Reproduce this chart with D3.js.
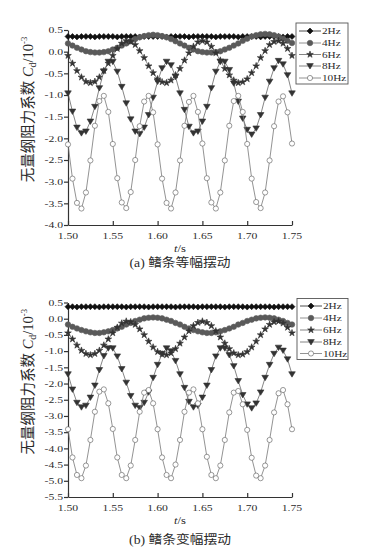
<!DOCTYPE html>
<html><head><meta charset="utf-8">
<script src="https://cdn.jsdelivr.net/npm/d3@7"></script>
<style>body{margin:0;background:#fff}svg{display:block}</style>
</head><body>
<script>
// ---------- data ----------
const times=[1.500,1.505,1.510,1.515,1.520,1.525,1.530,1.535,1.540,1.545,1.550,1.555,1.560,1.565,1.570,1.575,1.580,1.585,1.590,1.595,1.600,1.605,1.610,1.615,1.620,1.625,1.630,1.635,1.640,1.645,1.650,1.655,1.660,1.665,1.670,1.675,1.680,1.685,1.690,1.695,1.700,1.705,1.710,1.715,1.720,1.725,1.730,1.735,1.740,1.745,1.750];
const seriesNames=["2Hz","4Hz","6Hz","8Hz","10Hz"];
const xTicks=[1.50,1.55,1.60,1.65,1.70,1.75];
const yTicksA=[0.5,0.0,-0.5,-1.0,-1.5,-2.0,-2.5,-3.0,-3.5,-4.0];
const yTicksB=[0.5,0.0,-0.5,-1.0,-1.5,-2.0,-2.5,-3.0,-3.5,-4.0,-4.5,-5.0,-5.5];
const yLabelCJK="无量纲阻力系数 ";
const xLabel="t/s";
const captions=["(a) 鳍条等幅摆动","(b) 鳍条变幅摆动"];

// (a) constant-amplitude
const a2=[0.35,0.35,0.34,0.35,0.35,0.35,0.34,0.35,0.35,0.35,0.35,0.34,0.35,0.35,0.35,0.35,0.34,0.35,0.35,0.35,0.35,0.35,0.34,0.35,0.35,0.35,0.35,0.34,0.35,0.35,0.35,0.35,0.35,0.34,0.35,0.35,0.35,0.35,0.34,0.35,0.35,0.35,0.35,0.34,0.35,0.35,0.35,0.35,0.34,0.35,0.35];
const a4=[0.19,0.14,0.09,0.05,0.01,-0.01,-0.02,-0.02,-0.01,0.01,0.05,0.09,0.14,0.19,0.24,0.29,0.33,0.36,0.38,0.39,0.38,0.36,0.33,0.29,0.24,0.19,0.14,0.09,0.05,0.01,-0.01,-0.02,-0.02,-0.01,0.01,0.05,0.09,0.14,0.19,0.25,0.30,0.35,0.38,0.40,0.41,0.40,0.38,0.35,0.30,0.25,0.20];
const a6=[-0.09,-0.27,-0.44,-0.59,-0.69,-0.72,-0.69,-0.59,-0.44,-0.27,-0.09,0.07,0.19,0.25,0.23,0.16,0.02,-0.14,-0.33,-0.49,-0.63,-0.70,-0.72,-0.66,-0.54,-0.39,-0.20,-0.03,0.12,0.22,0.25,0.22,0.12,-0.03,-0.20,-0.39,-0.54,-0.66,-0.72,-0.70,-0.63,-0.49,-0.33,-0.14,0.02,0.16,0.23,0.25,0.19,0.07,-0.09];
const a8=[-0.96,-1.38,-1.75,-1.88,-1.84,-1.61,-1.27,-0.84,-0.45,-0.23,-0.23,-0.46,-0.81,-1.19,-1.56,-1.84,-1.90,-1.75,-1.46,-1.06,-0.69,-0.38,-0.23,-0.31,-0.58,-0.96,-1.34,-1.73,-1.88,-1.84,-1.61,-1.27,-0.84,-0.46,-0.23,-0.23,-0.42,-0.73,-1.15,-1.54,-1.80,-1.91,-1.77,-1.46,-1.06,-0.69,-0.38,-0.21,-0.29,-0.54,-0.96];
const a10=[-2.14,-2.93,-3.49,-3.62,-3.25,-2.51,-1.71,-1.14,-1.02,-1.39,-2.13,-2.92,-3.48,-3.61,-3.24,-2.50,-1.72,-1.15,-1.02,-1.40,-2.14,-2.93,-3.49,-3.62,-3.25,-2.51,-1.71,-1.16,-1.02,-1.39,-2.12,-2.92,-3.48,-3.62,-3.25,-2.51,-1.71,-1.14,-1.02,-1.39,-2.13,-2.93,-3.47,-3.61,-3.25,-2.51,-1.72,-1.15,-1.03,-1.40,-2.12];

// (b) variable-amplitude
const b2=[0.37,0.37,0.36,0.37,0.37,0.37,0.37,0.36,0.37,0.37,0.37,0.37,0.37,0.36,0.37,0.37,0.37,0.37,0.36,0.37,0.37,0.37,0.37,0.37,0.36,0.37,0.37,0.37,0.37,0.36,0.37,0.37,0.37,0.37,0.37,0.36,0.37,0.37,0.37,0.37,0.36,0.37,0.37,0.37,0.37,0.37,0.36,0.37,0.37,0.37,0.37];
const b4=[-0.18,-0.25,-0.30,-0.35,-0.39,-0.42,-0.44,-0.44,-0.42,-0.39,-0.35,-0.30,-0.25,-0.18,-0.13,-0.07,-0.03,0.01,0.03,0.04,0.03,0.01,-0.03,-0.07,-0.13,-0.18,-0.25,-0.30,-0.35,-0.39,-0.42,-0.44,-0.44,-0.42,-0.39,-0.35,-0.30,-0.25,-0.18,-0.13,-0.07,-0.03,0.01,0.03,0.04,0.03,0.01,-0.03,-0.07,-0.13,-0.18];
const b6=[-0.44,-0.63,-0.82,-0.98,-1.08,-1.12,-1.08,-0.98,-0.82,-0.63,-0.44,-0.27,-0.14,-0.08,-0.10,-0.18,-0.32,-0.50,-0.70,-0.88,-1.02,-1.10,-1.12,-1.06,-0.93,-0.76,-0.57,-0.38,-0.22,-0.12,-0.08,-0.12,-0.22,-0.38,-0.57,-0.76,-0.93,-1.06,-1.12,-1.10,-1.02,-0.88,-0.70,-0.50,-0.32,-0.18,-0.10,-0.08,-0.14,-0.27,-0.44];
const b8=[-1.71,-2.18,-2.59,-2.73,-2.68,-2.43,-2.06,-1.58,-1.15,-0.91,-0.91,-1.16,-1.55,-1.97,-2.38,-2.68,-2.75,-2.59,-2.27,-1.82,-1.42,-1.08,-0.91,-1.00,-1.30,-1.71,-2.13,-2.56,-2.73,-2.68,-2.43,-2.06,-1.58,-1.16,-0.91,-0.91,-1.12,-1.46,-1.92,-2.35,-2.64,-2.76,-2.61,-2.27,-1.82,-1.42,-1.08,-0.89,-0.98,-1.25,-1.71];
const b10=[-3.41,-4.28,-4.82,-4.92,-4.53,-3.74,-2.87,-2.25,-2.18,-2.61,-3.40,-4.28,-4.82,-4.92,-4.53,-3.74,-2.87,-2.28,-2.20,-2.61,-3.41,-4.28,-4.82,-4.92,-4.50,-3.74,-2.87,-2.28,-2.18,-2.61,-3.41,-4.26,-4.82,-4.92,-4.53,-3.74,-2.89,-2.28,-2.23,-2.64,-3.43,-4.29,-4.84,-4.92,-4.53,-3.74,-2.89,-2.30,-2.20,-2.64,-3.41];

// ---------- drawing ----------
const W=371,H=553;
const svg=d3.select("body").append("svg").attr("width",W).attr("height",H);
svg.append("rect").attr("width",W).attr("height",H).attr("fill","#fff");
const SERIF="'Liberation Serif','Times New Roman','Noto Sans CJK SC',serif";
const INK="#2a2a2a";

function stext(g,x,y,str,size,sx,anchor){
  return g.append("text").attr("transform",`translate(${x},${y}) scale(${sx},1)`)
    .attr("text-anchor",anchor||"start").attr("font-family",SERIF)
    .attr("font-size",size).attr("fill",INK).text(str);
}

const markerDefs=[
  {path:"M0,-3L3,0L0,3L-3,0Z", fill:"#111", stroke:"#111", line:"#222"},
  {path:d3.symbol(d3.symbolCircle,24)(), fill:"#5a5a5a", stroke:"#5a5a5a", line:"#777"},
  {path:d3.symbol(d3.symbolStar,14)(), fill:"#333", stroke:"#333", line:"#666"},
  {path:"M-3.3,-2.4L3.3,-2.4L0,3Z", fill:"#333", stroke:"#333", line:"#666"},
  {path:d3.symbol(d3.symbolCircle,21)(), fill:"#fff", stroke:"#555", line:"#777"}
];

const panels=[
  {series:[a2,a4,a6,a8,a10], ticks:yTicksA, dom:[-4.0,0.5], top:30, bottom:225,
   legend:{x:296,y:23,w:52,h:61,rows:[31,43,54.5,66,78]}, xl:252, tl:238.5, cap:267, cap_i:0},
  {series:[b2,b4,b6,b8,b10], ticks:yTicksB, dom:[-5.5,0.5], top:302.5, bottom:497,
   legend:{x:297,y:298.5,w:51,h:61,rows:[306,318,330,342,353.5]}, xl:523.5, tl:511, cap:544, cap_i:1}
];

const x=d3.scaleLinear().domain([1.50,1.75]).range([68,292]);

panels.forEach(p=>{
  const g=svg.append("g");
  const y=d3.scaleLinear().domain(p.dom).range([p.bottom,p.top]);

  const ax=g.append("g").attr("transform",`translate(0,${p.bottom})`)
    .call(d3.axisBottom(x).tickValues(xTicks).tickSize(-4).tickSizeOuter(0).tickFormat(""));
  const ay=g.append("g").attr("transform",`translate(68,0)`)
    .call(d3.axisLeft(y).tickValues(p.ticks).tickSize(4).tickSizeOuter(0).tickFormat(""));
  [ax,ay].forEach(a=>{a.selectAll("path,line").attr("stroke","#333").attr("stroke-width",1.2);});

  p.ticks.forEach(t=>{
    stext(g,63,y(t)+3.2,t.toFixed(1),9,1.3,"end");
  });
  xTicks.forEach(t=>{
    stext(g,x(t),p.tl,t.toFixed(2),9,1.3,"middle");
  });

  const xt=g.append("text").attr("transform",`translate(180,${p.xl}) scale(1.2,1)`)
    .attr("text-anchor","middle").attr("font-family",SERIF).attr("font-size",10.5).attr("fill",INK);
  xt.append("tspan").attr("font-style","italic").text(xLabel.split("/")[0]);
  xt.append("tspan").text("/"+xLabel.split("/")[1]);

  const cy=(p.top+p.bottom)/2-18;
  const yl=g.append("text").attr("transform",`translate(33,${cy}) rotate(-90)`)
    .attr("text-anchor","middle").attr("font-family",SERIF).attr("font-size",14.5).attr("fill",INK);
  yl.append("tspan").text(yLabelCJK);
  yl.append("tspan").attr("font-style","italic").text("C");
  yl.append("tspan").attr("font-size",10).attr("dy",3).text("d");
  yl.append("tspan").attr("dy",-3).text("/10");
  yl.append("tspan").attr("font-size",8.5).attr("dy",-6).text("-3");

  stext(g,180,p.cap,captions[p.cap_i],12.5,1.1,"middle");

  const line=d3.line().x((d,i)=>x(times[i])).y(d=>y(d));
  p.series.forEach((s,k)=>{
    const m=markerDefs[k];
    const sg=g.append("g");
    sg.append("path").datum(s).attr("d",line).attr("fill","none")
      .attr("stroke",m.line).attr("stroke-width",0.8);
    sg.selectAll("path.m").data(s).join("path").attr("class","m")
      .attr("transform",(d,i)=>`translate(${x(times[i])},${y(d)})`)
      .attr("d",m.path).attr("fill",m.fill).attr("stroke",m.stroke).attr("stroke-width",0.6);
  });

  const L=p.legend;
  const lg=g.append("g");
  lg.append("rect").attr("x",L.x).attr("y",L.y).attr("width",L.w).attr("height",L.h)
    .attr("fill","#fff").attr("stroke","#555").attr("stroke-width",0.9);
  seriesNames.forEach((n,k)=>{
    const m=markerDefs[k], ry=L.rows[k];
    lg.append("line").attr("x1",L.x+3).attr("x2",L.x+25).attr("y1",ry).attr("y2",ry)
      .attr("stroke",m.line).attr("stroke-width",0.8);
    lg.append("path").attr("transform",`translate(${L.x+14},${ry})`).attr("d",m.path)
      .attr("fill",m.fill).attr("stroke",m.stroke).attr("stroke-width",0.6);
    stext(lg,L.x+26,ry+3,n,9,1.25,"start");
  });
});
</script>
</body></html>
